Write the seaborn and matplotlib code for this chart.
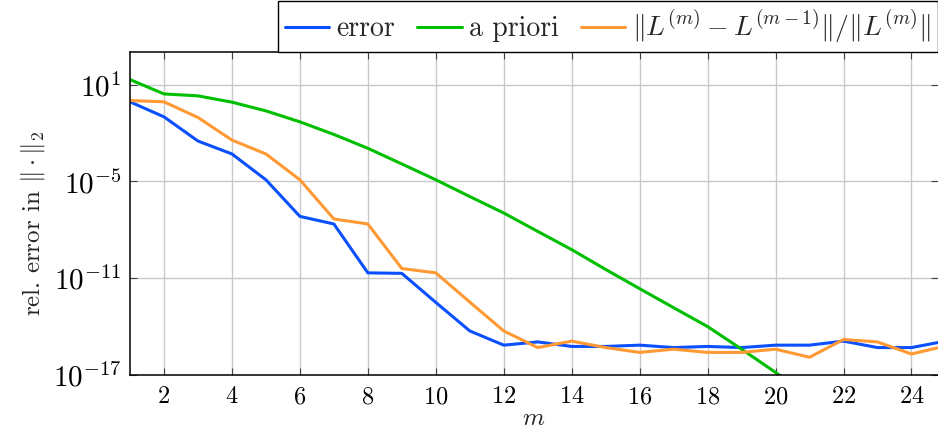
import numpy as np
import pandas as pd
import matplotlib
matplotlib.use("Agg")
import matplotlib.pyplot as plt
import seaborn as sns

# log10 values
M_ALL = list(range(1, 26))
ERROR_LOG = [-0.07, -1.0, -2.5, -3.3, -4.9, -7.17, -7.64, -10.67, -10.7, -12.5,
             -14.27, -15.15, -14.95, -15.23, -15.23, -15.15, -15.3, -15.23, -15.3,
             -15.15, -15.15, -14.9, -15.3, -15.3, -14.9]
M_PRIORI = list(range(1, 22))
PRIORI_LOG = [1.31, 0.42, 0.30, -0.09, -0.63, -1.31, -2.09, -2.95, -3.92, -4.9,
              -5.94, -6.96, -8.1, -9.23, -10.46, -11.65, -12.83, -14.0, -15.4,
              -16.84, -18.3]
DIFF_LOG = [0.01, -0.07, -1.04, -2.44, -3.3, -4.9, -7.33, -7.64, -10.4, -10.67,
            -12.48, -14.27, -15.3, -14.9, -15.3, -15.6, -15.4, -15.6, -15.6,
            -15.4, -15.9, -14.8, -14.95, -15.7, -15.2]

LABELS = ["error", "a priori", r"$\|L^{(m)} - L^{(m-1)}\|/\|L^{(m)}\|$"]
COLORS = ["#0A50FF", "#00BF00", "#FF9933"]
XTICKS = list(range(2, 25, 2))
YTICKS = [1e1, 1e-5, 1e-11, 1e-17]


def build_frame():
    parts = [
        pd.DataFrame({"m": M_ALL, "val": 10.0 ** np.array(ERROR_LOG), "series": LABELS[0]}),
        pd.DataFrame({"m": M_PRIORI, "val": 10.0 ** np.array(PRIORI_LOG), "series": LABELS[1]}),
        pd.DataFrame({"m": M_ALL, "val": 10.0 ** np.array(DIFF_LOG), "series": LABELS[2]}),
    ]
    return pd.concat(parts, ignore_index=True)


def main():
    sns.set_style("ticks")
    plt.rcParams["font.family"] = "cmr10"
    plt.rcParams["mathtext.fontset"] = "cm"
    plt.rcParams["axes.formatter.use_mathtext"] = True
    plt.rcParams["axes.unicode_minus"] = False

    df = build_frame()

    fig = plt.figure(figsize=(9.38, 4.33), dpi=100)
    ax = fig.add_axes([130 / 938, 1 - 375 / 433, 1 - 130 / 938, (375 - 52.3) / 433])

    sns.lineplot(data=df, x="m", y="val", hue="series", palette=COLORS,
                 linewidth=2.2, ax=ax, legend=False, sort=False)

    ax.set_yscale("log")
    ax.set_xlim(1, 24.78)
    ax.set_ylim(1e-17, 1e3)
    ax.set_xticks(XTICKS)
    ax.set_yticks(YTICKS)
    ax.minorticks_off()
    ax.grid(True, color="#c8c8c8", linewidth=1.0)
    ax.tick_params(direction="in", top=True, right=True,
                   length=5, width=0.8, colors="#444444", labelcolor="black")
    ax.tick_params(axis="x", labelsize=17.5, pad=8)
    ax.tick_params(axis="y", labelsize=21, pad=6)
    for side in ["left", "bottom", "top"]:
        ax.spines[side].set_linewidth(1.1)
        ax.spines[side].set_color("black")
    ax.spines["right"].set_visible(False)

    ax.set_xlabel("$m$", fontsize=18, labelpad=0)
    ax.set_ylabel(r"rel. error in $\|\cdot\|_2$", fontsize=18)
    ax.yaxis.set_label_coords(-0.103, 0.47)

    handles = [plt.Line2D([], [], color=c, linewidth=2.2) for c in COLORS]
    leg = ax.legend(handles, LABELS, loc="lower right", bbox_to_anchor=(1.0, 1.0),
                    ncol=3, fontsize=20, frameon=True, fancybox=False,
                    edgecolor="black", framealpha=1.0, borderaxespad=0.0,
                    handlelength=1.6, handletextpad=0.25, columnspacing=0.8,
                    borderpad=0.25)
    leg.get_frame().set_linewidth(1.0)

    fig.savefig("out.png", dpi=100)
    plt.close(fig)


if __name__ == "__main__":
    main()
